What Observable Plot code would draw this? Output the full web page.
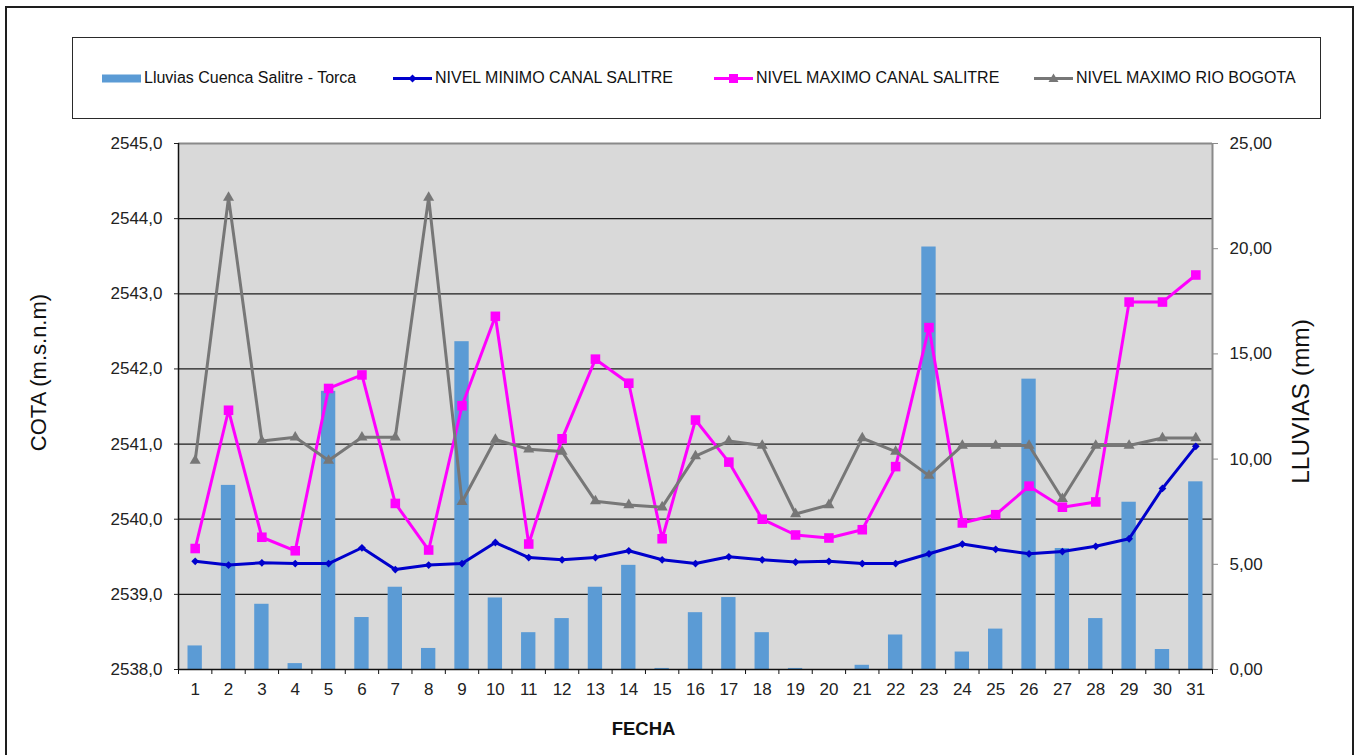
<!DOCTYPE html>
<html>
<head>
<meta charset="utf-8">
<script src="https://cdn.jsdelivr.net/npm/d3@7"></script>
<script src="https://cdn.jsdelivr.net/npm/@observablehq/plot@0.6"></script>
<style>
  html, body { margin: 0; padding: 0; background: #fff; overflow: hidden; }
  #page { position: relative; width: 1364px; height: 755px; overflow: hidden;
          font-family: "Liberation Sans", Arial, sans-serif; }
  #marco { position: absolute; left: 5px; top: 6px; width: 1349px; height: 800px;
           border: 2px solid #1e1e1e; box-sizing: border-box; }
  #leyenda { position: absolute; left: 72px; top: 37px; width: 1249px; height: 82px;
             border: 1.5px solid #2a2a2a; box-sizing: border-box; background: #fff; }
  .item { position: absolute; top: 0; height: 100%; display: flex; align-items: center;
          font-size: 16px; color: #111; white-space: nowrap; }
  .item svg { margin-right: 3px; }
  #grafico { position: absolute; left: 0; top: 130px; }
</style>
</head>
<body>
<div id="page">
  <div id="marco"></div>
  <div id="leyenda"></div>
  <div id="grafico"></div>
</div>
<script>
// Días del mes
const dias = [1, 2, 3, 4, 5, 6, 7, 8, 9, 10, 11, 12, 13, 14, 15, 16,
              17, 18, 19, 20, 21, 22, 23, 24, 25, 26, 27, 28, 29, 30, 31];

// Lluvias Cuenca Salitre - Torca (mm), eje derecho
const lluvias = [1.12, 8.75, 3.10, 0.28, 13.22, 2.47, 3.91, 1.00, 15.58, 3.40,
                 1.75, 2.42, 3.91, 4.95, 0.05, 2.70, 3.42, 1.75, 0.05, 0.00,
                 0.20, 1.64, 20.08, 0.83, 1.92, 13.80, 5.75, 2.42, 7.95, 0.95, 8.92];

// Cotas (m.s.n.m), eje izquierdo
const nivelMinimoSalitre = [2539.44, 2539.39, 2539.42, 2539.41, 2539.41, 2539.62, 2539.33, 2539.39,
                            2539.41, 2539.69, 2539.49, 2539.46, 2539.49, 2539.58, 2539.46, 2539.41,
                            2539.50, 2539.46, 2539.43, 2539.44, 2539.41, 2539.41, 2539.54, 2539.67,
                            2539.60, 2539.54, 2539.57, 2539.64, 2539.74, 2540.41, 2540.97];
const nivelMaximoSalitre = [2539.61, 2541.45, 2539.76, 2539.58, 2541.74, 2541.92, 2540.21, 2539.59,
                            2541.51, 2542.70, 2539.67, 2541.07, 2542.13, 2541.81, 2539.74, 2541.32,
                            2540.76, 2540.00, 2539.79, 2539.75, 2539.86, 2540.70, 2542.55, 2539.95,
                            2540.06, 2540.44, 2540.16, 2540.23, 2542.89, 2542.89, 2543.25];
const nivelMaximoBogota = [2540.78, 2544.28, 2541.04, 2541.09, 2540.78, 2541.09, 2541.09, 2544.28,
                           2540.23, 2541.06, 2540.93, 2540.90, 2540.24, 2540.19, 2540.16, 2540.84,
                           2541.04, 2540.98, 2540.07, 2540.19, 2541.08, 2540.90, 2540.58, 2540.98,
                           2540.98, 2540.98, 2540.27, 2540.98, 2540.98, 2541.08, 2541.08];

// Marcas de los ejes
const cotaTicks = [2538, 2539, 2540, 2541, 2542, 2543, 2544, 2545];
const lluviaTicks = [0, 5, 10, 15, 20, 25];

const series = [
  { nombre: "Lluvias Cuenca Salitre - Torca", color: "#5b9bd5", tipo: "barra" },
  { nombre: "NIVEL MINIMO CANAL SALITRE", color: "#0000cc", tipo: "diamond2" },
  { nombre: "NIVEL MAXIMO CANAL SALITRE", color: "#ff00ff", tipo: "square" },
  { nombre: "NIVEL MAXIMO RIO BOGOTA", color: "#777777", tipo: "triangle" }
];

const BASE = cotaTicks[0], TOPE = cotaTicks[cotaTicks.length - 1];
const LLUVIA_MAX = lluviaTicks[lluviaTicks.length - 1];
// Convierte mm de lluvia a la escala de cota (eje secundario)
const aCota = mm => BASE + mm * (TOPE - BASE) / LLUVIA_MAX;
const deCota = v => (v - BASE) * LLUVIA_MAX / (TOPE - BASE);
const coma = (v, n) => v.toFixed(n).replace(".", ",");

const filas = dias.map((d, i) => ({
  dia: d,
  lluvia: lluvias[i],
  min: nivelMinimoSalitre[i],
  maxS: nivelMaximoSalitre[i],
  maxB: nivelMaximoBogota[i]
}));
const fronteras = [...dias.map(d => d - 0.5), dias[dias.length - 1] + 0.5];
const medioAncho = 0.215;

const FUENTE = "Liberation Sans, Arial, sans-serif";

const grafico = Plot.plot({
  width: 1364,
  height: 625,
  marginTop: 13,
  marginBottom: 86,
  marginLeft: 178,
  marginRight: 152,
  style: { fontFamily: FUENTE, fontSize: "17px", color: "#222", background: "transparent", overflow: "visible" },
  x: { domain: [fronteras[0], fronteras[fronteras.length - 1]], label: null },
  y: { domain: [BASE, TOPE], label: null },
  marks: [
    Plot.frame({ fill: "#d9d9d9", stroke: null }),
    Plot.ruleY(cotaTicks.slice(1, -1), { stroke: "#1c1c1c", strokeWidth: 1.3 }),
    Plot.rectY(filas, {
      x1: d => d.dia - medioAncho,
      x2: d => d.dia + medioAncho,
      y1: BASE,
      y2: d => aCota(d.lluvia),
      fill: series[0].color
    }),
    Plot.ruleY([TOPE], { stroke: "#8a8a8a", strokeWidth: 2 }),
    Plot.ruleX([fronteras[fronteras.length - 1]], { stroke: "#8a8a8a", strokeWidth: 2 }),

    Plot.line(filas, { x: "dia", y: "min", stroke: series[1].color, strokeWidth: 3 }),
    Plot.dot(filas, { x: "dia", y: "min", symbol: "diamond2", r: 3.5, fill: series[1].color }),
    Plot.line(filas, { x: "dia", y: "maxS", stroke: series[2].color, strokeWidth: 3 }),
    Plot.dot(filas, { x: "dia", y: "maxS", symbol: "square", r: 5.4, fill: series[2].color }),
    Plot.line(filas, { x: "dia", y: "maxB", stroke: series[3].color, strokeWidth: 3 }),
    Plot.dot(filas, { x: "dia", y: "maxB", symbol: "triangle", r: 4.1, fill: series[3].color }),

    // ejes
    Plot.ruleX([fronteras[0]], { stroke: "#111", strokeWidth: 1.5 }),
    Plot.ruleY([BASE], { stroke: "#111", strokeWidth: 1.5 }),
    Plot.axisY({ ticks: cotaTicks, tickFormat: v => coma(v, 1), tickSize: 4, tickPadding: 12,
                 stroke: "#222", fill: "#222", label: null }),
    Plot.axisY({ anchor: "right", ticks: lluviaTicks.map(aCota),
                 tickFormat: v => coma(Math.round(deCota(v) * 100) / 100, 2),
                 tickSize: 5, tickPadding: 12, stroke: "#8a8a8a", fill: "#222", label: null }),
    Plot.axisX({ ticks: fronteras, tickSize: 5, tickFormat: () => "", stroke: "#111", label: null }),
    Plot.axisX({ ticks: dias, tickSize: 0, tickPadding: 13, tickFormat: d => String(d),
                 fill: "#222", label: null }),

    // títulos de ejes
    Plot.text(["COTA (m.s.n.m)"], { text: d => d, frameAnchor: "left", textAnchor: "middle",
                                     dx: -140, dy: -34, rotate: -90, fontSize: 22, fill: "#111" }),
    Plot.text(["LLUVIAS (mm)"], { text: d => d, frameAnchor: "right", textAnchor: "middle",
                                   dx: 89, dy: -5, rotate: -90, fontSize: 24.5, fill: "#111" }),
    Plot.text(["FECHA"], { text: d => d, frameAnchor: "bottom", dx: -52, dy: 65,
                           fontSize: 18.5, fontWeight: "bold", fill: "#111" })
  ]
});
document.getElementById("grafico").appendChild(grafico);

// Leyenda
const leyenda = document.getElementById("leyenda");
const posiciones = [29, 320, 641, 961];
const formas = {
  diamond2: c => `<path d="M19.5,15.5 L23.5,19.5 L19.5,23.5 L15.5,19.5 Z" fill="${c}"/>`,
  square: c => `<rect x="15" y="15" width="9" height="9" fill="${c}"/>`,
  triangle: c => `<path d="M19.5,14.5 L24.5,23 L14.5,23 Z" fill="${c}"/>`
};
series.forEach((s, i) => {
  const item = document.createElement("div");
  item.className = "item";
  item.style.left = posiciones[i] + "px";
  const icono = s.tipo === "barra"
    ? `<rect x="0" y="15.5" width="39" height="8" fill="${s.color}"/>`
    : `<line x1="0" x2="39" y1="19.5" y2="19.5" stroke="${s.color}" stroke-width="3"/>` + formas[s.tipo](s.color);
  item.innerHTML = `<svg width="39" height="39">${icono}</svg><span>${s.nombre}</span>`;
  leyenda.appendChild(item);
});
</script>
</body>
</html>
